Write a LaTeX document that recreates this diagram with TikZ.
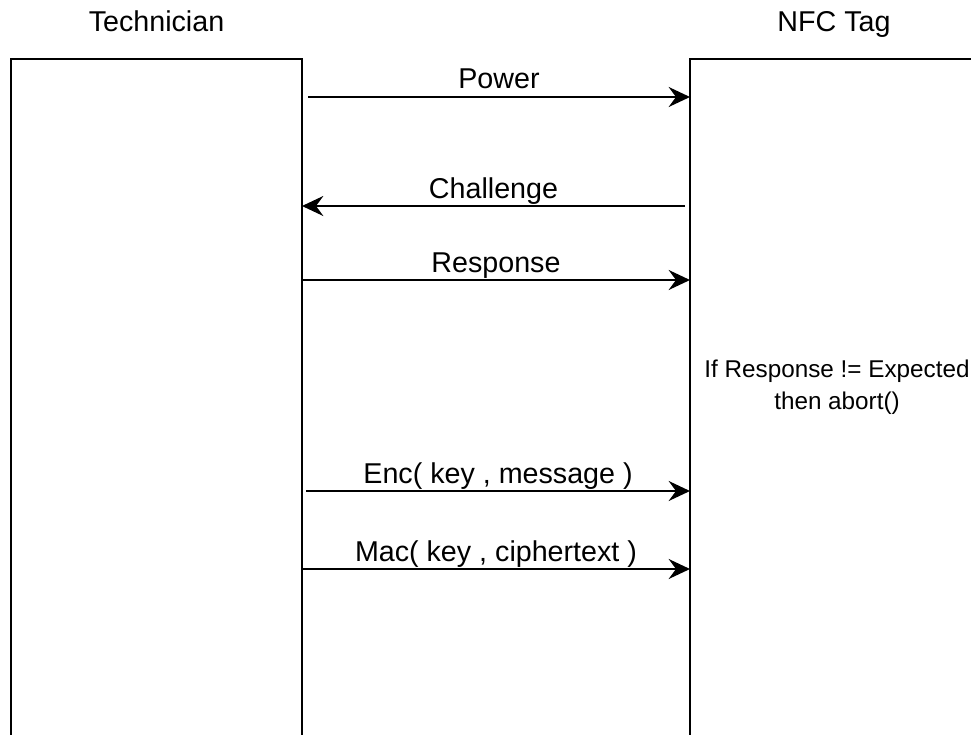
\documentclass[tikz,border=0pt]{standalone}
\usepackage{fontspec}
\setmainfont{Liberation Sans}
\usepackage{tikz}
\usetikzlibrary{positioning, arrows.meta, calc}

\tikzset{
  lifeline/.style={draw, line width=1.5pt, rectangle, outer sep=0pt, inner sep=0pt},
  actor/.style={font=\fontsize{21.5}{26}\selectfont, inner sep=0pt, text depth=0pt},
  msg/.style={line width=1.5pt, -{Stealth[length=16pt, width=15pt, inset=5.5pt]}},
  lbl/.style={font=\fontsize{21.5}{26}\selectfont, midway, anchor=base, yshift=6pt, inner sep=0pt},
  note/.style={font=\fontsize{18.2}{24}\selectfont, align=center, inner sep=0pt}
}

\begin{document}
\begin{tikzpicture}[x=0.75pt, y=-0.75pt]
  \useasboundingbox (0,0) rectangle (971,735);
  \clip (0,0) rectangle (971,735);

  % Lifelines (run off the page)
  \node[lifeline, minimum width=218.25pt, minimum height=525.75pt] (tech) at (156.5,409.5) {};
  \node[lifeline, minimum width=232.5pt, minimum height=525.75pt] (tag) at (845,409.5) {};
  \coordinate (tagtop) at (834,59);

  % Actors
  \node[actor, above=20.25pt of tech.north] (techlbl) {Technician};
  \node[actor, above=20.25pt of tagtop] (taglbl) {NFC Tag};

  % Messages
  \draw[msg] ([xshift=4.5pt]tech.east |- 0,97) -- (tag.west |- 0,97) node[lbl] {Power};
  \draw[msg] ([xshift=-3.75pt]tag.west |- 0,206) -- (tech.east |- 0,206) node[lbl] {Challenge};
  \draw[msg] (tech.east |- 0,280) -- (tag.west |- 0,280) node[lbl] {Response};
  \draw[msg] ([xshift=3pt]tech.east |- 0,491) -- (tag.west |- 0,491) node[lbl] {Enc( key , message )};
  \draw[msg] (tech.east |- 0,569) -- (tag.west |- 0,569) node[lbl] {Mac( key , ciphertext )};

  % Check on the tag side
  \node[note] (check) at (837,387) {If Response != Expected\\then abort()};
\end{tikzpicture}
\end{document}
